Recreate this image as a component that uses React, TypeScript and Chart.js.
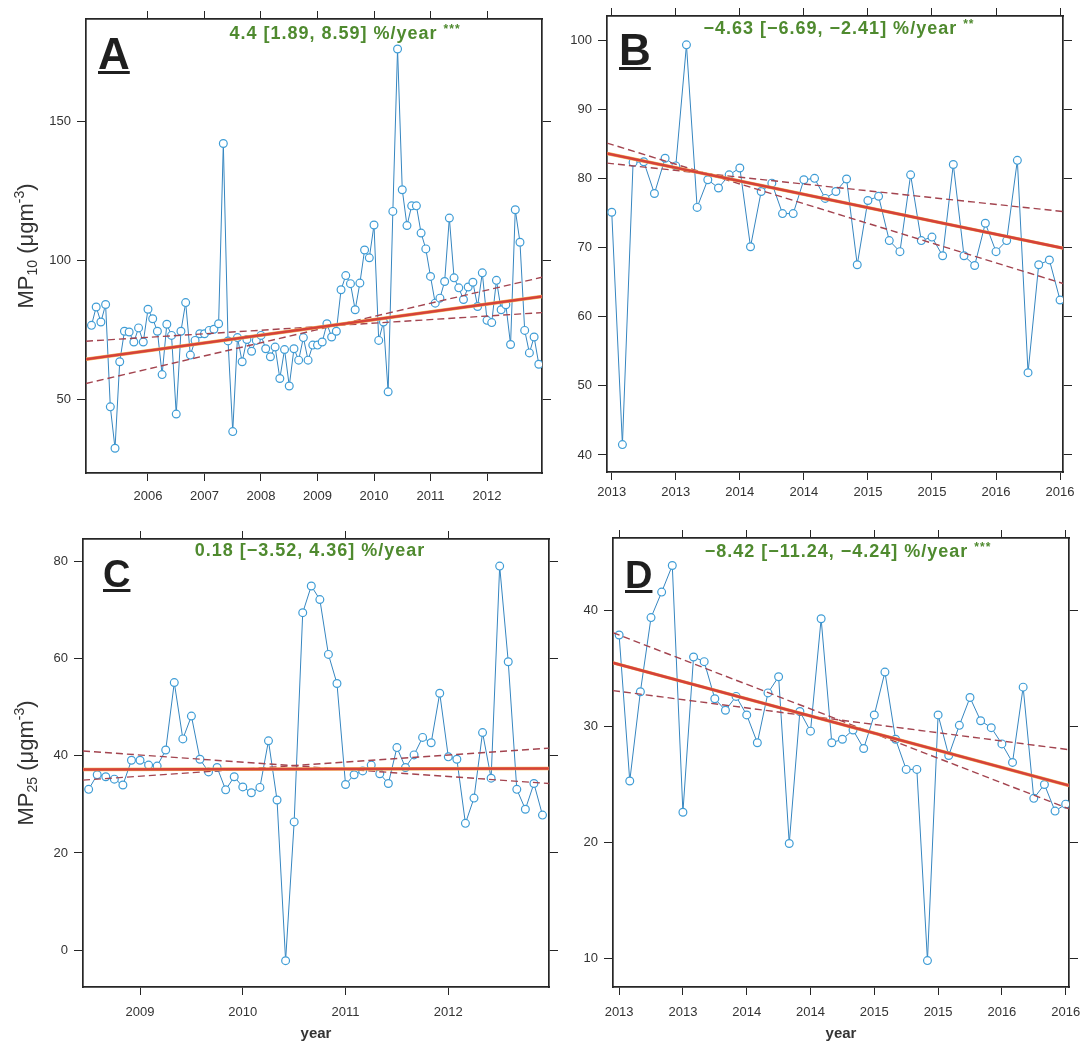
import React, { useEffect, useRef } from 'react';
import { Chart, registerables } from 'chart.js';

Chart.register(...registerables);

// ---------------- DATA ----------------
// Panel A — MP10, monthly means, Jan 2005 – Dec 2012
const A_FIRST_MONTH = 2005;
const A_VALUES = [
  76.5, 83.1, 77.7, 84.0, 47.2, 32.3, 63.4, 74.4, 74.1, 70.5, 75.6, 70.5,
  82.3, 78.9, 74.4, 58.8, 76.9, 72.9, 44.6, 74.4, 84.7, 65.8, 71.1, 73.5,
  73.5, 74.7, 75.1, 77.1, 141.9, 70.9, 38.3, 72.1, 63.4, 71.4, 67.2, 71.1,
  72.9, 68.1, 65.2, 68.7, 57.4, 67.8, 54.7, 68.1, 64.0, 72.1, 64.0, 69.4,
  69.4, 70.5, 77.1, 72.3, 74.4, 89.3, 94.4, 91.5, 82.1, 91.7, 103.6, 100.8,
  112.6, 71.1, 77.7, 52.6, 117.5, 175.9, 125.3, 112.4, 119.5, 119.5, 109.7, 104.0,
  94.1, 84.5, 86.3, 92.3, 115.1, 93.6, 90.0, 85.8, 90.3, 92.0, 83.3, 95.4,
  78.3, 77.5, 92.7, 82.1, 83.9, 69.6, 118.1, 106.4, 74.7, 66.6, 72.3, 62.5,
];
const A_X_TICKS = [2006, 2007, 2008, 2009, 2010, 2011, 2012];
const A_X_LABELS = ['2006', '2007', '2008', '2009', '2010', '2011', '2012'];
const A_Y_TICKS = [50, 100, 150];
const A_X_RANGE = [2004.903, 2012.973];
const A_Y_RANGE = [23.4, 186.7];
const A_TREND = [64.3, 86.9];
const A_CI_STEEP = [55.6, 93.8];
const A_CI_FLAT = [70.8, 81.1];
const A_NOTE = '4.4 [1.89, 8.59] %/year';
const A_STARS = '***';

// Panel B — MP10, monthly means, Jan 2013 – Jul 2016
const B_FIRST_MONTH = 2013;
const B_VALUES = [
  75.1, 41.5, 82.3, 82.4, 77.8, 82.9, 81.8, 99.3, 75.8, 79.8, 78.6, 80.5,
  81.5, 70.1, 78.1, 79.3, 74.9, 74.9, 79.8, 80.0, 77.1, 78.1, 79.9, 67.5,
  76.8, 77.4, 71.0, 69.4, 80.5, 71.0, 71.5, 68.8, 82.0, 68.8, 67.4, 73.5,
  69.4, 71.0, 82.6, 51.9, 67.5, 68.2, 62.4,
];
const B_X_TICKS = [2013, 2013.5, 2014, 2014.5, 2015, 2015.5, 2016, 2016.5];
const B_X_LABELS = ['2013', '2013', '2014', '2014', '2015', '2015', '2016', '2016'];
const B_Y_TICKS = [40, 50, 60, 70, 80, 90, 100];
const B_X_RANGE = [2012.963, 2016.523];
const B_Y_RANGE = [37.54, 103.47];
const B_TREND = [83.6, 69.9];
const B_CI_STEEP = [85.1, 64.8];
const B_CI_FLAT = [82.2, 75.2];
const B_NOTE = '\u22124.63 [\u22126.69, \u22122.41] %/year';
const B_STARS = '**';

// Panel C — MP25, monthly means, Jul 2008 – Dec 2012
const C_FIRST_MONTH = 2008.5;
const C_VALUES = [
  33.1, 36.1, 35.7, 35.2, 34.0, 39.1, 39.1, 38.1, 37.9, 41.2, 55.1, 43.5,
  48.2, 39.3, 36.7, 37.6, 33.0, 35.7, 33.6, 32.4, 33.5, 43.1, 30.9, -2.2,
  26.4, 69.5, 75.0, 72.2, 60.9, 54.9, 34.1, 36.1, 36.9, 38.1, 36.3, 34.3,
  41.7, 37.6, 40.2, 43.8, 42.7, 52.9, 39.8, 39.3, 26.1, 31.3, 44.8, 35.4,
  79.1, 59.4, 33.1, 29.0, 34.3, 27.8,
];
const C_X_TICKS = [2009, 2010, 2011, 2012];
const C_X_LABELS = ['2009', '2010', '2011', '2012'];
const C_Y_TICKS = [0, 20, 40, 60, 80];
const C_X_RANGE = [2008.445, 2012.98];
const C_Y_RANGE = [-7.62, 84.68];
const C_TREND = [37.2, 37.4];
const C_CI_STEEP = [35.0, 41.6];
const C_CI_FLAT = [41.0, 34.3];
const C_NOTE = '0.18 [\u22123.52, 4.36] %/year';
const C_STARS = '';

// Panel D — MP25, monthly means, Jan 2013 – Jul 2016
const D_FIRST_MONTH = 2013;
const D_VALUES = [
  37.9, 25.3, 33.0, 39.4, 41.6, 43.9, 22.6, 36.0, 35.6, 32.4, 31.4, 32.6,
  31.0, 28.6, 32.9, 34.3, 19.9, 31.3, 29.6, 39.3, 28.6, 28.9, 29.7, 28.1,
  31.0, 34.7, 28.9, 26.3, 26.3, 9.8, 31.0, 27.5, 30.1, 32.5, 30.5, 29.9,
  28.5, 26.9, 33.4, 23.8, 25.0, 22.7, 23.3,
];
const D_X_TICKS = [2013, 2013.5, 2014, 2014.5, 2015, 2015.5, 2016, 2016.5];
const D_X_LABELS = ['2013', '2013', '2014', '2014', '2015', '2015', '2016', '2016'];
const D_Y_TICKS = [10, 20, 30, 40];
const D_X_RANGE = [2012.952, 2016.526];
const D_Y_RANGE = [7.52, 46.27];
const D_TREND = [35.5, 24.9];
const D_CI_STEEP = [38.1, 22.9];
const D_CI_FLAT = [33.1, 28.0];
const D_NOTE = '\u22128.42 [\u221211.24, \u22124.24] %/year';
const D_STARS = '***';

// ---------------- STYLE ----------------
const FONT = '"Liberation Sans", Arial, Helvetica, sans-serif';
const BLUE_LINE = '#3686c0';
const BLUE_POINT = '#3f9dd6';
const RED = '#d5423a';
const ORANGE = '#f2ad55';
const DASH = '#a3444f';
const AXIS = '#262626';
const GREEN = '#4f8a2f';
const TEXT = '#333333';

type Panel = {
  id: string;
  start: number;
  values: number[];
  xTicks: number[];
  xLabels: string[];
  yTicks: number[];
  xRange: number[];
  yRange: number[];
  trend: number[];
  ciSteep: number[];
  ciFlat: number[];
  note: string;
  stars: string;
  yTitleSub: string | null;
  showXTitle: boolean;
  box: { left: number; top: number; width: number; height: number };
  axes: { left: number; right: number; top: number; bottom: number };
  xPad: number;
  letterDx: number;
  letterDy: number;
  letterSize: number;
  noteCx: number;
  noteCy: number;
};

const PANELS: Panel[] = [
  {
    id: 'A', start: A_FIRST_MONTH, values: A_VALUES, xTicks: A_X_TICKS, xLabels: A_X_LABELS,
    yTicks: A_Y_TICKS, xRange: A_X_RANGE, yRange: A_Y_RANGE, trend: A_TREND,
    ciSteep: A_CI_STEEP, ciFlat: A_CI_FLAT, note: A_NOTE, stars: A_STARS,
    yTitleSub: '10', showXTitle: false,
    box: { left: 0, top: 0, width: 565, height: 515 },
    axes: { left: 86, right: 23, top: 19, bottom: 42 },
    xPad: 8, letterDx: 12, letterDy: 50, letterSize: 44, noteCx: 259, noteCy: 15,
  },
  {
    id: 'B', start: B_FIRST_MONTH, values: B_VALUES, xTicks: B_X_TICKS, xLabels: B_X_LABELS,
    yTicks: B_Y_TICKS, xRange: B_X_RANGE, yRange: B_Y_RANGE, trend: B_TREND,
    ciSteep: B_CI_STEEP, ciFlat: B_CI_FLAT, note: B_NOTE, stars: B_STARS,
    yTitleSub: null, showXTitle: false,
    box: { left: 553, top: 0, width: 528, height: 515 },
    axes: { left: 54, right: 18, top: 16, bottom: 43 },
    xPad: 5, letterDx: 12, letterDy: 49, letterSize: 44, noteCx: 232, noteCy: 13,
  },
  {
    id: 'C', start: C_FIRST_MONTH, values: C_VALUES, xTicks: C_X_TICKS, xLabels: C_X_LABELS,
    yTicks: C_Y_TICKS, xRange: C_X_RANGE, yRange: C_Y_RANGE, trend: C_TREND,
    ciSteep: C_CI_STEEP, ciFlat: C_CI_FLAT, note: C_NOTE, stars: C_STARS,
    yTitleSub: '25', showXTitle: true,
    box: { left: 0, top: 520, width: 565, height: 526 },
    axes: { left: 83, right: 16, top: 19, bottom: 59 },
    xPad: 10, letterDx: 20, letterDy: 48, letterSize: 38, noteCx: 227, noteCy: 12,
  },
  {
    id: 'D', start: D_FIRST_MONTH, values: D_VALUES, xTicks: D_X_TICKS, xLabels: D_X_LABELS,
    yTicks: D_Y_TICKS, xRange: D_X_RANGE, yRange: D_Y_RANGE, trend: D_TREND,
    ciSteep: D_CI_STEEP, ciFlat: D_CI_FLAT, note: D_NOTE, stars: D_STARS,
    yTitleSub: null, showXTitle: true,
    box: { left: 553, top: 520, width: 528, height: 526 },
    axes: { left: 60, right: 12, top: 18, bottom: 59 },
    xPad: 10, letterDx: 12, letterDy: 50, letterSize: 38, noteCx: 235, noteCy: 14,
  },
];

// ---------------- DECORATION PLUGIN ----------------
const decorPlugin = {
  id: 'decor',
  afterDraw(chart: any, _args: any, opts: any) {
    const { ctx, chartArea } = chart;
    const p: Panel = opts.panel;
    ctx.save();

    // panel letter, underlined
    ctx.font = `bold ${p.letterSize}px ${FONT}`;
    ctx.fillStyle = '#1f1f1f';
    ctx.textAlign = 'left';
    ctx.textBaseline = 'alphabetic';
    const lx = chartArea.left + p.letterDx;
    const ly = chartArea.top + p.letterDy;
    ctx.fillText(p.id, lx, ly);
    const lw = ctx.measureText(p.id).width;
    ctx.fillRect(lx, ly + 2, lw, 3);

    // trend note (green)
    ctx.fillStyle = GREEN;
    ctx.textBaseline = 'middle';
    (ctx as any).letterSpacing = '1px';
    ctx.font = `bold 18px ${FONT}`;
    const mainW = ctx.measureText(p.note + (p.stars ? ' ' : '')).width;
    ctx.font = `bold 12px ${FONT}`;
    const starW = p.stars ? ctx.measureText(p.stars).width : 0;
    const nx = chartArea.left + p.noteCx - (mainW + starW) / 2;
    const ny = chartArea.top + p.noteCy;
    ctx.font = `bold 18px ${FONT}`;
    ctx.fillText(p.note, nx, ny);
    if (p.stars) {
      ctx.font = `bold 12px ${FONT}`;
      ctx.fillText(p.stars, nx + mainW, ny - 4);
    }
    (ctx as any).letterSpacing = '0px';

    // y-axis title with subscript / superscript
    if (p.yTitleSub) {
      const parts = [
        { t: 'MP', size: 22, dy: 0 },
        { t: p.yTitleSub, size: 14, dy: 4 },
        { t: ' (\u03bcgm', size: 22, dy: 0 },
        { t: '-3', size: 14, dy: -9 },
        { t: ')', size: 22, dy: 0 },
      ];
      let total = 0;
      for (const part of parts) {
        ctx.font = `${part.size}px ${FONT}`;
        total += ctx.measureText(part.t).width;
      }
      ctx.translate(25, (chartArea.top + chartArea.bottom) / 2);
      ctx.rotate(-Math.PI / 2);
      ctx.fillStyle = TEXT;
      ctx.textBaseline = 'alphabetic';
      let cx = -total / 2;
      for (const part of parts) {
        ctx.font = `${part.size}px ${FONT}`;
        ctx.fillText(part.t, cx, 8 + part.dy);
        cx += ctx.measureText(part.t).width;
      }
      ctx.setTransform(1, 0, 0, 1, 0, 0);
    }

    // x-axis title
    if (p.showXTitle) {
      ctx.font = `bold 15px ${FONT}`;
      ctx.fillStyle = TEXT;
      ctx.textAlign = 'center';
      ctx.textBaseline = 'middle';
      ctx.fillText('year', (chartArea.left + chartArea.right) / 2, chartArea.bottom + 47);
    }
    ctx.restore();
  },
};

function makeConfig(p: Panel): any {
  const pts = p.values.map((v, i) => ({ x: p.start + i / 12, y: v }));
  const seg = (vals: number[]) => [
    { x: p.xRange[0], y: vals[0] },
    { x: p.xRange[1], y: vals[1] },
  ];
  const tickGrid = (len: number) => ({
    display: true,
    drawOnChartArea: false,
    drawTicks: true,
    tickLength: len,
    color: AXIS,
    lineWidth: 1,
  });
  const border = { display: true, color: AXIS, width: 1.7 };
  const setTicks = (vals: number[]) => (s: any) => {
    s.ticks = vals.map((v) => ({ value: v }));
  };
  const fix = (key: 'width' | 'height', size: number) => (s: any) => {
    s[key] = size;
    s.paddingLeft = 0;
    s.paddingRight = 0;
    s.paddingTop = 0;
    s.paddingBottom = 0;
  };
  const tickFont = { family: FONT, size: 13 };
  const xBase = { type: 'linear', min: p.xRange[0], max: p.xRange[1], afterBuildTicks: setTicks(p.xTicks), grid: tickGrid(8), border };
  const yBase = { type: 'linear', min: p.yRange[0], max: p.yRange[1], afterBuildTicks: setTicks(p.yTicks), grid: tickGrid(9), border };

  return {
    type: 'line',
    data: {
      datasets: [
        { label: 'trend', data: seg(p.trend), borderColor: RED, borderWidth: 2.6, pointRadius: 0, order: 0 },
        { label: 'trend-halo', data: seg(p.trend), borderColor: ORANGE, borderWidth: 3.4, pointRadius: 0, order: 1 },
        { label: 'ci-a', data: seg(p.ciSteep), borderColor: DASH, borderWidth: 1.4, borderDash: [7, 4], pointRadius: 0, order: 2 },
        { label: 'ci-b', data: seg(p.ciFlat), borderColor: DASH, borderWidth: 1.4, borderDash: [7, 4], pointRadius: 0, order: 2 },
        {
          label: 'monthly mean',
          data: pts,
          borderColor: BLUE_LINE,
          borderWidth: 1,
          pointRadius: 3.9,
          pointBorderWidth: 1.2,
          pointBorderColor: BLUE_POINT,
          pointBackgroundColor: '#ffffff',
          tension: 0,
          order: 3,
        },
      ],
    },
    options: {
      responsive: false,
      animation: false,
      events: [],
      layout: { padding: 0 },
      plugins: {
        legend: { display: false },
        tooltip: { enabled: false },
        title: { display: false },
        decor: { panel: p },
      },
      scales: {
        x: {
          ...xBase,
          position: 'bottom',
          afterFit: fix('height', p.axes.bottom),
          ticks: {
            autoSkip: false, maxRotation: 0, minRotation: 0, padding: p.xPad, color: TEXT, font: tickFont,
            callback: (_v: any, i: number) => p.xLabels[i],
          },
        },
        x2: {
          ...xBase,
          position: 'top',
          afterFit: fix('height', p.axes.top),
          ticks: { display: false },
        },
        y: {
          ...yBase,
          position: 'left',
          afterFit: fix('width', p.axes.left),
          ticks: { padding: 6, color: TEXT, font: tickFont, callback: (v: any) => String(v) },
        },
        y2: {
          ...yBase,
          position: 'right',
          afterFit: fix('width', p.axes.right),
          ticks: { display: false },
        },
      },
    },
    plugins: [decorPlugin],
  };
}

export default function App() {
  const refs = useRef<(HTMLCanvasElement | null)[]>([]);

  useEffect(() => {
    const charts = PANELS.map((p, i) => new Chart(refs.current[i] as HTMLCanvasElement, makeConfig(p)));
    return () => charts.forEach((c) => c.destroy());
  }, []);

  return (
    <div style={{ position: 'absolute', left: 0, top: 0, width: 1081, height: 1046, background: '#ffffff', overflow: 'hidden' }}>
      {PANELS.map((p, i) => (
        <canvas
          key={p.id}
          ref={(el) => { refs.current[i] = el; }}
          width={p.box.width}
          height={p.box.height}
          style={{ position: 'absolute', left: p.box.left, top: p.box.top, width: p.box.width, height: p.box.height }}
        />
      ))}
    </div>
  );
}
